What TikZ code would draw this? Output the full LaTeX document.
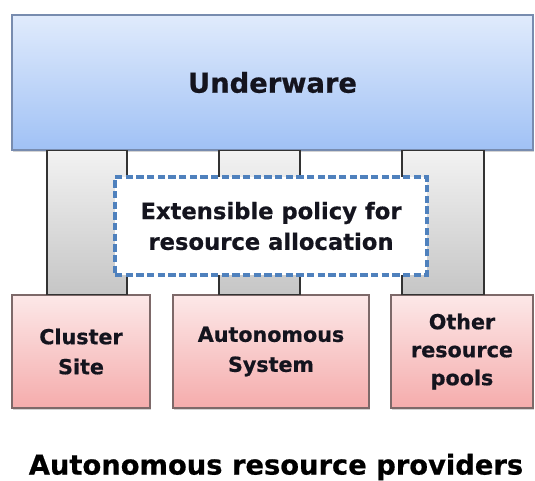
\documentclass[tikz,border=0pt]{standalone}
\usepackage{fontspec}
\setmainfont{DejaVu Sans}[BoldFeatures={FakeBold=0.6}]
\usepackage{xcolor}
\usetikzlibrary{positioning, shadows}

\definecolor{uwtop}{RGB}{224,235,252}
\definecolor{uwbot}{RGB}{160,193,245}
\definecolor{uwline}{RGB}{120,140,175}
\definecolor{pktop}{RGB}{252,232,232}
\definecolor{pkbot}{RGB}{245,172,172}
\definecolor{pkline}{RGB}{125,105,105}
\definecolor{dashblue}{RGB}{79,129,189}
\definecolor{txt}{RGB}{20,20,30}

\tikzset{
  layerbox/.style={draw=uwline, line width=0.9pt, top color=uwtop, bottom color=uwbot,
    drop shadow={shadow xshift=1pt, shadow yshift=-1.2pt, opacity=0.35},
    text=txt, font=\bfseries\fontsize{20.5}{24}\selectfont},
  poolbox/.style={draw=pkline, line width=0.8pt, top color=pktop, bottom color=pkbot,
    drop shadow={shadow xshift=1pt, shadow yshift=-1.2pt, opacity=0.35},
    minimum height=84.75pt, align=center, text=txt,
    font=\bfseries\fontsize{15.5}{22.5}\selectfont},
  pillar/.style={draw=black!80, line width=1pt, top color=gray!10, bottom color=gray!45},
  policybox/.style={draw=dashblue, line width=2.3pt, dash pattern=on 5.5pt off 2.5pt, fill=white,
    minimum width=234pt, minimum height=73.5pt, align=center, text=txt,
    font=\bfseries\fontsize{17}{23}\selectfont}
}

\begin{document}
\begin{tikzpicture}[x=0.75pt,y=0.75pt,yscale=-1,xscale=1]
\useasboundingbox (0,0) rectangle (535,480);
%Underware layer
\node[layerbox, minimum width=390.75pt, minimum height=101.25pt] (uw) at (272.5,82.5) {Underware};
%Resource pools
\node[poolbox, minimum width=103.5pt] (cs) at (81,351.5) {Cluster\\Site};
\node[poolbox, minimum width=147pt] (as) at (271,351.5) {Autonomous\\System};
\node[poolbox, minimum width=106.5pt, font=\bfseries\fontsize{15.5}{21}\selectfont] (op) at (462,351.5) {Other\\resource\\pools};
%Pillars
\path[pillar] (47,0 |- uw.south) rectangle (127,0 |- cs.north);
\path[pillar] (219,0 |- uw.south) rectangle (300,0 |- as.north);
\path[pillar] (402,0 |- uw.south) rectangle (484,0 |- op.north);
%Policy
\node[policybox] (pol) at (271,226) {Extensible policy for\\resource allocation};
%Caption
\node[text=black, inner sep=0pt, font=\bfseries\fontsize{20.5}{24}\selectfont] (cap) at (276,467) {Autonomous resource providers};
\end{tikzpicture}
\end{document}
